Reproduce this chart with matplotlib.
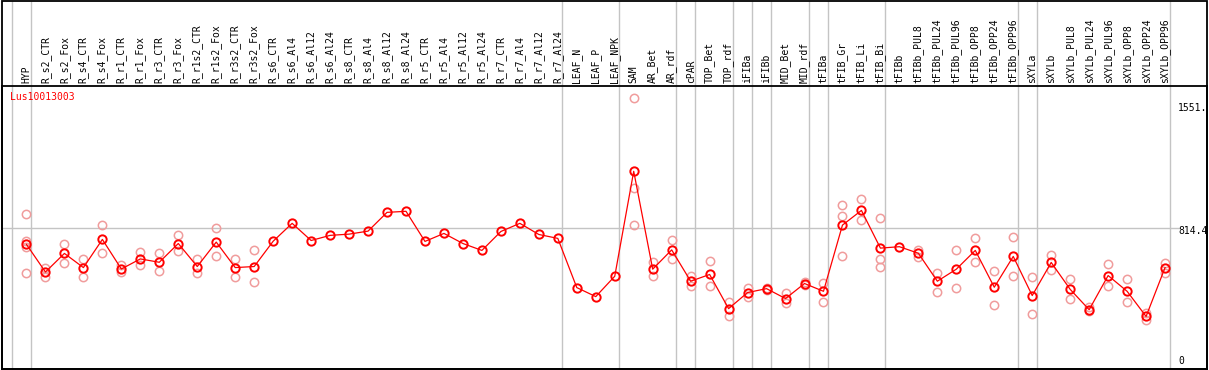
import matplotlib
matplotlib.use("Agg")
import matplotlib.pyplot as plt
import matplotlib.transforms as mtransforms
import numpy as np

categories = ["HYP", "R_s2_CTR", "R_s2_Fox", "R_s4_CTR", "R_s4_Fox", "R_r1_CTR", "R_r1_Fox",
              "R_r3_CTR", "R_r3_Fox", "R_r1s2_CTR", "R_r1s2_Fox", "R_r3s2_CTR", "R_r3s2_Fox",
              "R_s6_CTR", "R_s6_Al4", "R_s6_Al12", "R_s6_Al24", "R_s8_CTR", "R_s8_Al4",
              "R_s8_Al12", "R_s8_Al24", "R_r5_CTR", "R_r5_Al4", "R_r5_Al12", "R_r5_Al24",
              "R_r7_CTR", "R_r7_Al4", "R_r7_Al12", "R_r7_Al24", "LEAF_N", "LEAF_P", "LEAF_NPK",
              "SAM", "AR_Bet", "AR_rdf", "cPAR", "TOP_Bet", "TOP_rdf", "iFIBa", "iFIBb",
              "MID_Bet", "MID_rdf", "tFIBa", "tFIB_Gr", "tFIB_Li", "tFIB_Bi", "tFIBb",
              "tFIBb_PUL8", "tFIBb_PUL24", "tFIBb_PUL96", "tFIBb_OPP8", "tFIBb_OPP24",
              "tFIBb_OPP96", "sXYLa", "sXYLb", "sXYLb_PUL8", "sXYLb_PUL24", "sXYLb_PUL96",
              "sXYLb_OPP8", "sXYLb_OPP24", "sXYLb_OPP96"]

means = [724, 568, 673, 593, 752, 585, 642, 623, 729, 599, 737, 593, 599,
         742, 843, 746, 775, 782, 799, 905, 911, 741, 786, 729, 690,
         797, 843, 780, 758, 480, 429, 544,
         1137, 584, 693, 516, 554, 361, 452, 474,
         418, 503, 459, 833, 916, 703, 711,
         674, 516, 584, 690, 482, 656,
         435, 622, 470, 355, 548, 459, 317, 593]

replicates = [[895, 742, 708, 561], [593, 537], [725, 618], [640, 542], [833, 673],
              [610, 568], [680, 605], [673, 576], [775, 684], [640, 563], [814, 656],
              [644, 540], [691, 514],
              [], [], [], [], [], [], [], [], [], [], [], [], [], [], [], [], [], [], [],
              [1551, 1041, 831], [622, 544], [748, 644], [546, 487], [629, 487], [397, 319],
              [478, 427], [480, 469], [450, 393], [512, 493], [504, 399],
              [945, 882, 657], [979, 861], [871, 639, 595], [],
              [693, 653], [565, 457], [691, 480], [758, 622], [576, 384], [765, 548],
              [542, 333], [663, 580], [527, 414], [368, 346], [616, 487], [527, 397],
              [336, 295], [619, 565]]

# group separators: after these category indices
separators_after = [-1, 0, 28, 31, 34, 35, 37, 38, 39, 41, 42, 45, 52, 53, 60]

gene_id = "Lus10013003"
ref_value = 814.4
max_value = 1551
axis_labels = ["1551.", "814.4", "0"]

W, H = 1209, 370
fig = plt.figure(figsize=(W / 100, H / 100), dpi=100)
fig.patch.set_facecolor("white")

left_px, right_px = 1.5, 1207.0
top_px, bottom_px = 85.7, 368.5
ax = fig.add_axes([left_px / W, (H - bottom_px) / H, (right_px - left_px) / W, (bottom_px - top_px) / H])
ax.set_xlim(-1.3158, 62.21)
ax.set_ylim(22.8, 1620.7)
ax.set_xticks([])
ax.set_yticks([])
for s in ax.spines.values():
    s.set_color("black")
    s.set_linewidth(1.3)
ax.patch.set_alpha(0)

frame = plt.Rectangle((left_px / W, (H - bottom_px) / H), (right_px - left_px) / W,
                      (bottom_px - 0.8) / H, transform=fig.transFigure, fill=False,
                      edgecolor="black", linewidth=1.3, zorder=10)
fig.add_artist(frame)

ytop_frac = (bottom_px - 0.5) / (bottom_px - top_px)

gray = "#C4C4C4"
for k in separators_after:
    ax.axvline(k + 0.237, ymin=0, ymax=ytop_frac, color=gray, lw=1.0, clip_on=False, zorder=1)

ax.plot([-1.3158, 60.74], [ref_value, ref_value], color=gray, lw=1.0, zorder=1, clip_on=False)

x = np.arange(len(categories))

rx, ry = [], []
for i, reps in enumerate(replicates):
    for v in reps:
        rx.append(i)
        ry.append(v)
ax.plot(rx, ry, linestyle="none", marker="o", markersize=6.0, markerfacecolor="none",
        markeredgecolor="#F09C9C", markeredgewidth=1.1, zorder=2, clip_on=False)

ax.plot(x, means, color="#FF0000", lw=0.9, marker="o", markersize=6.0, markerfacecolor="none",
        markeredgecolor="#FF0000", markeredgewidth=1.4, zorder=3, clip_on=False)

mono = "DejaVu Sans Mono"
trans = mtransforms.blended_transform_factory(ax.transData, ax.transAxes)
label_y = (bottom_px - 83.0) / (bottom_px - top_px)
for i, c in enumerate(categories):
    ax.text(i, label_y, c, rotation=90, ha="center", va="bottom", fontsize=7,
            family=mono, color="black", transform=trans, clip_on=False)

fig.text(10 / W, (H - 97) / H, gene_id, color="#FF0000", fontsize=7, family=mono,
         ha="left", va="center")

# right-side value labels (placed like the reference's gutter labels)
for lab, ypx in zip(axis_labels, [108, 231.5, 361.5]):
    fig.text(1178 / W, (H - ypx) / H, lab, fontsize=7, family=mono,
             ha="left", va="center", color="black")

fig.savefig("out.png", dpi=100, facecolor="white")
